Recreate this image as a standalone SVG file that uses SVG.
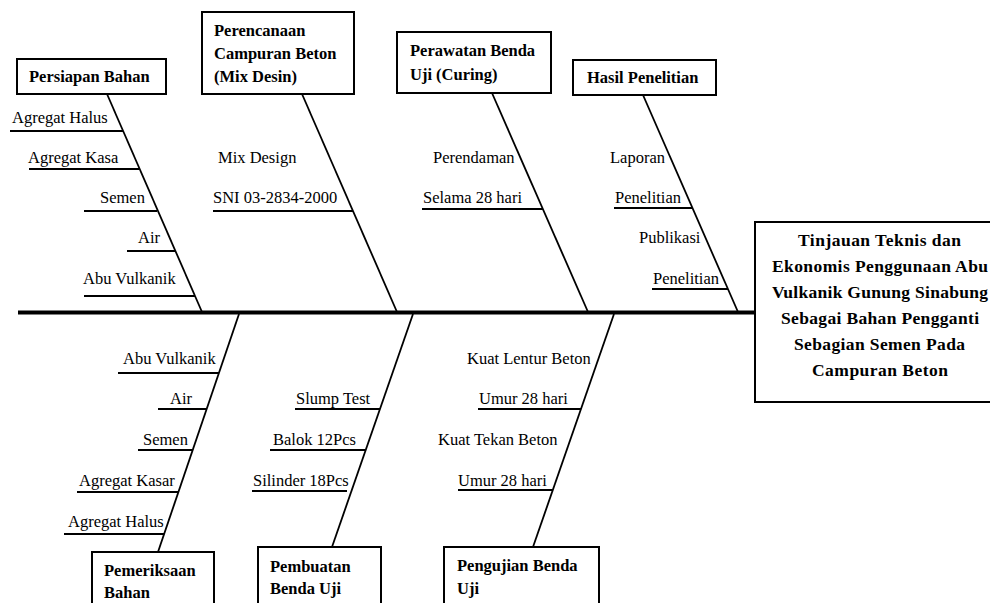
<svg xmlns="http://www.w3.org/2000/svg" width="990" height="603" viewBox="0 0 990 603">
<style>
.bg{fill:#fff}
.box{fill:#fff;stroke:#000;stroke-width:2}
.ln{stroke:#000;stroke-width:1.8;fill:none}
.ul{stroke:#000;stroke-width:2;fill:none}
.spine{stroke:#000;stroke-width:4}
.t{font-family:"Liberation Serif","Times New Roman",serif;font-size:16.5px;fill:#000}
.b{font-family:"Liberation Serif","Times New Roman",serif;font-size:16.5px;font-weight:bold;fill:#000}
.m{font-family:"Liberation Serif","Times New Roman",serif;font-size:17.5px;font-weight:bold;fill:#000}
</style>
<rect class="bg" x="0" y="0" width="990" height="603"/>
<g id="connectors">
<line class="spine" x1="18" y1="312.5" x2="755" y2="312.5"/>
<line class="ln" x1="107" y1="94" x2="202" y2="312"/>
<line class="ln" x1="302" y1="94" x2="397" y2="312"/>
<line class="ln" x1="492" y1="93" x2="588" y2="312"/>
<line class="ln" x1="643" y1="95" x2="738" y2="312"/>
<line class="ln" x1="239" y1="314" x2="158" y2="552"/>
<line class="ln" x1="413" y1="314" x2="332" y2="547"/>
<line class="ln" x1="614" y1="314" x2="533" y2="547"/>
<line class="ul" x1="10" y1="131" x2="123" y2="131"/>
<line class="ul" x1="29" y1="169" x2="139" y2="169"/>
<line class="ul" x1="84" y1="211" x2="157" y2="211"/>
<line class="ul" x1="127" y1="251" x2="175" y2="251"/>
<line class="ul" x1="84" y1="296" x2="195" y2="296"/>
<line class="ul" x1="213" y1="211" x2="353" y2="211"/>
<line class="ul" x1="422" y1="209" x2="543" y2="209"/>
<line class="ul" x1="614" y1="208" x2="692" y2="208"/>
<line class="ul" x1="652" y1="289" x2="728" y2="289"/>
<line class="ul" x1="118" y1="373" x2="219" y2="373"/>
<line class="ul" x1="158" y1="409" x2="207" y2="409"/>
<line class="ul" x1="138" y1="450" x2="193" y2="450"/>
<line class="ul" x1="77" y1="492" x2="178" y2="492"/>
<line class="ul" x1="64" y1="534" x2="164" y2="534"/>
<line class="ul" x1="295" y1="409" x2="380" y2="409"/>
<line class="ul" x1="270" y1="450" x2="366" y2="450"/>
<line class="ul" x1="252" y1="491" x2="347" y2="491"/>
<line class="ul" x1="478" y1="409" x2="581" y2="409"/>
<line class="ul" x1="458" y1="490" x2="553" y2="490"/>
</g>
<g id="main">
<rect class="box" x="755" y="222" width="250" height="180"/>
<text class="m" x="798" y="246" textLength="163" lengthAdjust="spacing">Tinjauan  Teknis dan</text>
<text class="m" x="772" y="272" textLength="216" lengthAdjust="spacing">Ekonomis  Penggunaan  Abu</text>
<text class="m" x="772" y="298" textLength="216" lengthAdjust="spacing">Vulkanik  Gunung  Sinabung</text>
<text class="m" x="781" y="324" textLength="198" lengthAdjust="spacing">Sebagai Bahan Pengganti</text>
<text class="m" x="794" y="350" textLength="171" lengthAdjust="spacing">Sebagian Semen Pada</text>
<text class="m" x="812" y="376" textLength="136" lengthAdjust="spacing">Campuran  Beton</text>
</g>
<g id="persiapan">
<rect class="box" x="17" y="59" width="149" height="35"/>
<text class="b" x="29" y="82">Persiapan Bahan</text>
<text class="t" x="12" y="123">Agregat Halus</text>
<text class="t" x="28" y="163">Agregat Kasa</text>
<text class="t" x="100" y="203">Semen</text>
<text class="t" x="138" y="243">Air</text>
<text class="t" x="83" y="284">Abu Vulkanik</text>
</g>
<g id="perencanaan">
<rect class="box" x="202" y="12" width="152" height="82"/>
<text class="b" x="214" y="36">Perencanaan</text>
<text class="b" x="214" y="59">Campuran Beton</text>
<text class="b" x="214" y="82">(Mix Desin)</text>
<text class="t" x="218" y="163">Mix Design</text>
<text class="t" x="213" y="203">SNI 03-2834-2000</text>
</g>
<g id="perawatan">
<rect class="box" x="397" y="32" width="154" height="61"/>
<text class="b" x="410" y="56">Perawatan Benda</text>
<text class="b" x="410" y="80">Uji (Curing)</text>
<text class="t" x="433" y="163">Perendaman</text>
<text class="t" x="423" y="203">Selama 28 hari</text>
</g>
<g id="hasil">
<rect class="box" x="573" y="60" width="143" height="35"/>
<text class="b" x="587" y="83">Hasil Penelitian</text>
<text class="t" x="610" y="163">Laporan</text>
<text class="t" x="615" y="203">Penelitian</text>
<text class="t" x="639" y="243">Publikasi</text>
<text class="t" x="653" y="284">Penelitian</text>
</g>
<g id="pemeriksaan">
<rect class="box" x="92" y="552" width="122" height="60"/>
<text class="b" x="104" y="576">Pemeriksaan</text>
<text class="b" x="104" y="598">Bahan</text>
<text class="t" x="123" y="364">Abu Vulkanik</text>
<text class="t" x="170" y="404">Air</text>
<text class="t" x="143" y="445">Semen</text>
<text class="t" x="79" y="486">Agregat Kasar</text>
<text class="t" x="68" y="527">Agregat Halus</text>
</g>
<g id="pembuatan">
<rect class="box" x="258" y="547" width="123" height="65"/>
<text class="b" x="270" y="572">Pembuatan</text>
<text class="b" x="270" y="594">Benda Uji</text>
<text class="t" x="296" y="404">Slump Test</text>
<text class="t" x="273" y="445">Balok 12Pcs</text>
<text class="t" x="253" y="486">Silinder 18Pcs</text>
</g>
<g id="pengujian">
<rect class="box" x="444" y="547" width="155" height="65"/>
<text class="b" x="457" y="571">Pengujian Benda</text>
<text class="b" x="457" y="594">Uji</text>
<text class="t" x="467" y="364">Kuat Lentur Beton</text>
<text class="t" x="479" y="404">Umur 28 hari</text>
<text class="t" x="438" y="445">Kuat Tekan Beton</text>
<text class="t" x="458" y="486">Umur 28 hari</text>
</g>
</svg>
